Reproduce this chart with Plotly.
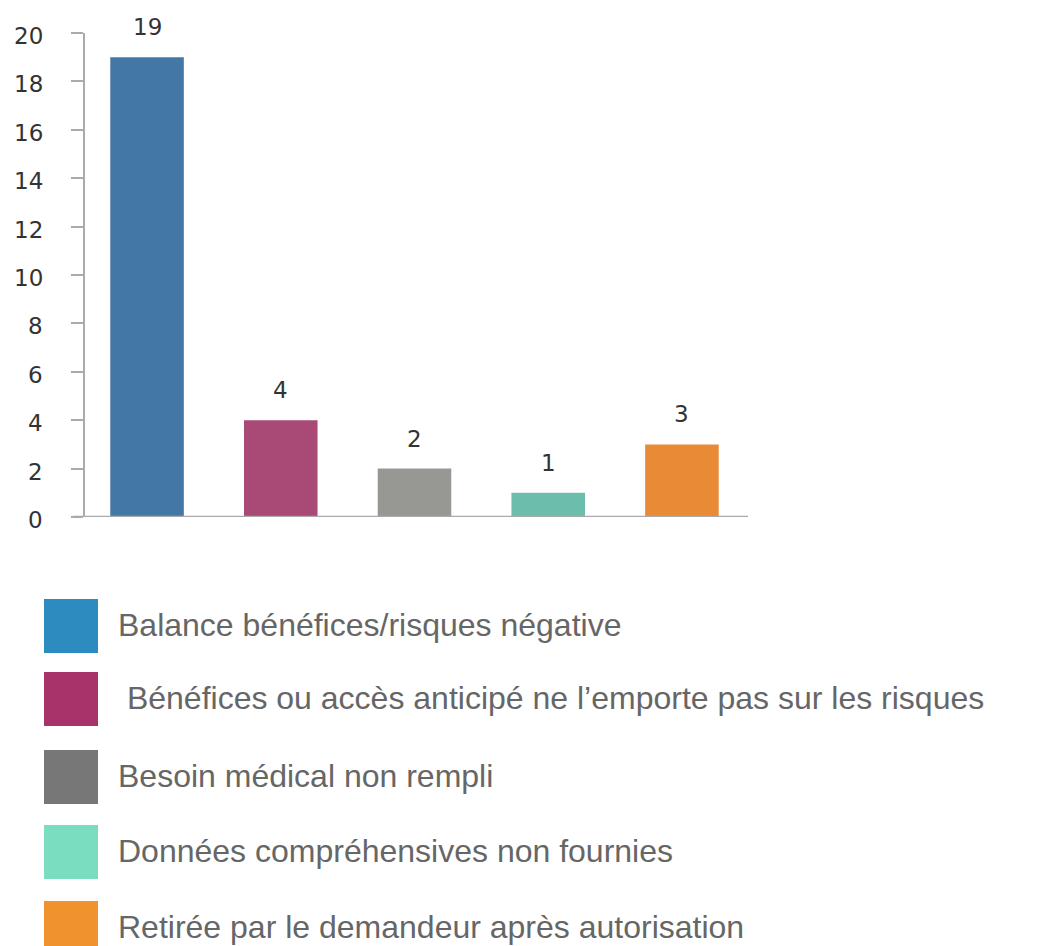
import plotly.graph_objects as go

categories = ["Balance bénéfices/risques négative",
              " Bénéfices ou accès anticipé ne l’emporte pas sur les risques",
              "Besoin médical non rempli",
              "Données compréhensives non fournies",
              "Retirée par le demandeur après autorisation"]
values = [19, 4, 2, 1, 3]
bar_colors = ["#4377A5", "#A84A75", "#979894", "#6DBDAC", "#E98A36"]
legend_colors = ["#2E8BC0", "#A8336A", "#777777", "#7BDDC0", "#F0922E"]
y_ticks = [0, 2, 4, 6, 8, 10, 12, 14, 16, 18, 20]

O = 8  # page body margin
W, H = 1050 - O, 946 - O
L, R, T, B = 85, 748, 33, 517  # reference pixel positions of plot area

def px_x(p):
    return (p - L) / (R - L)

def px_y(p):
    return (B - p) / (B - T)

xs = list(range(len(values)))
fig = go.Figure(go.Bar(x=xs, y=values, marker=dict(color=bar_colors, line=dict(width=0)),
                       width=0.55, showlegend=False, hoverinfo="y"))

for i, v in enumerate(values):
    fig.add_annotation(x=i, y=v, text=str(v), showarrow=False, yanchor="middle", yshift=30,
                       font=dict(family="DejaVu Sans", size=23, color="#333333"))

# y tick labels placed farther from the axis, as in the reference
for t in y_ticks:
    fig.add_annotation(xref="paper", yref="y", x=px_x(45), y=t, text=str(t), showarrow=False,
                       xanchor="right", yanchor="middle", yshift=-3,
                       font=dict(family="DejaVu Sans", size=23, color="#333333"))

fig.add_shape(type="line", xref="paper", yref="y", x0=px_x(73), x1=1, y0=0, y1=0,
              line=dict(color="#AAAAAA", width=2.5))

sq_tops = [599, 672, 750, 825, 901]
for i, (name, col) in enumerate(zip(categories, legend_colors)):
    top = sq_tops[i]
    fig.add_shape(type="rect", xref="paper", yref="paper",
                  x0=px_x(44), x1=px_x(98), y0=px_y(top + 54), y1=px_y(top),
                  fillcolor=col, line=dict(width=0))
    fig.add_annotation(xref="paper", yref="paper", x=px_x(116), y=px_y(top + 26),
                       xanchor="left", yanchor="middle", text=name, showarrow=False,
                       font=dict(family="Liberation Sans, Arial", size=32, color="#666666"))

fig.update_layout(
    width=W, height=H,
    margin=dict(l=L - O, r=1050 - R, t=T - O, b=946 - B, pad=0, autoexpand=False),
    plot_bgcolor="white", paper_bgcolor="white",
    bargap=0.45,
    xaxis=dict(range=[-0.464, 4.494], showticklabels=False, showgrid=False, zeroline=False,
               showline=False, ticks=""),
    yaxis=dict(range=[0, 20], tickvals=y_ticks, showgrid=False, zeroline=False,
               showline=True, linecolor="#AAAAAA", linewidth=2, showticklabels=False,
               ticks="outside", ticklen=12, tickcolor="#AAAAAA", tickwidth=2),
)

fig.write_html("out.html")
